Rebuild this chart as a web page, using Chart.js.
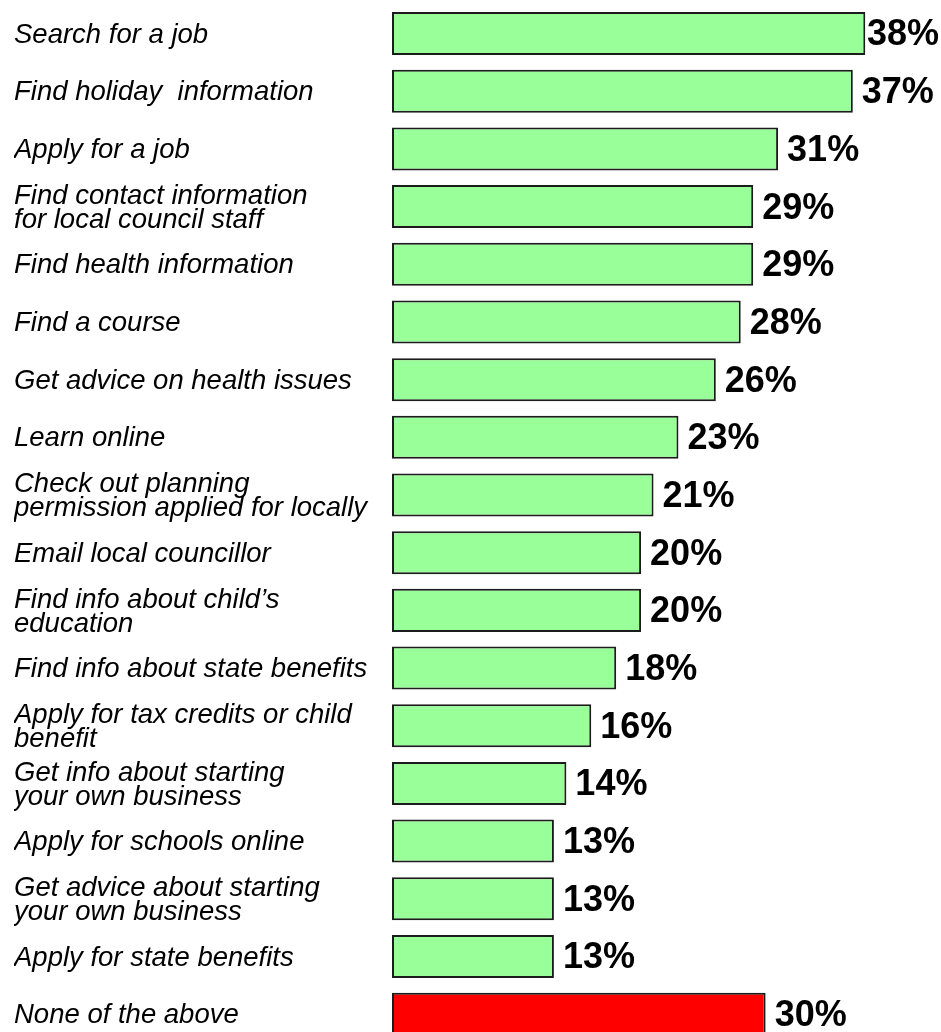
<!DOCTYPE html>
<html>
<head>
<meta charset="utf-8">
<title>Online activities</title>
<script src="https://cdn.jsdelivr.net/npm/chart.js@4/dist/chart.umd.min.js"></script>
<style>
  html, body { margin: 0; padding: 0; background: #fff; overflow: hidden; }
  #wrap { position: relative; width: 941px; height: 1043px; }
</style>
</head>
<body>
<div id="wrap"><canvas id="activityChart"></canvas></div>
<script>
// Activities and the share of people who have done each one online
const activities = [
    'Search for a job',
    'Find holiday  information',
    'Apply for a job',
    ['Find contact information', 'for local council staff'],
    'Find health information',
    'Find a course',
    'Get advice on health issues',
    'Learn online',
    ['Check out planning', 'permission applied for locally'],
    'Email local councillor',
    ['Find info about child\u2019s', 'education'],
    'Find info about state benefits',
    ['Apply for tax credits or child', 'benefit'],
    ['Get info about starting', 'your own business'],
    'Apply for schools online',
    ['Get advice about starting', 'your own business'],
    'Apply for state benefits',
    'None of the above'
];
const percentages = [38, 37, 31, 29, 29, 28, 26, 23, 21, 20, 20, 18, 16, 14, 13, 13, 13, 30];

const GREEN = '#99ff99';
const RED = '#ff0000';
const barColours = activities.map((a, i) => i === activities.length - 1 ? RED : GREEN);

// Percent labels to the right of each bar
const valueLabels = {
    id: 'valueLabels',
    afterDatasetsDraw(chart) {
        const ctx = chart.ctx;
        const meta = chart.getDatasetMeta(0);
        ctx.save();
        ctx.font = 'bold 36px "Liberation Sans", Arial, sans-serif';
        ctx.fillStyle = '#000';
        ctx.textBaseline = 'middle';
        ctx.textAlign = 'left';
        meta.data.forEach((bar, i) => {
            const text = percentages[i] + '%';
            const w = ctx.measureText(text).width;
            const x = Math.min(bar.x + 9, chart.width - w - 2);
            ctx.fillText(text, x, bar.y + 2);
        });
        ctx.restore();
    }
};

document.addEventListener('DOMContentLoaded', function() {
    const ctx = document.getElementById('activityChart');
    new Chart(ctx, {
        type: 'bar',
        data: {
            labels: activities,
            datasets: [{
                data: percentages,
                backgroundColor: barColours,
                borderColor: '#1c1c1c',
                borderWidth: 2,
                borderSkipped: false,
                categoryPercentage: 0.746,
                barPercentage: 1.0
            }]
        },
        options: {
            indexAxis: 'y',
            responsive: true,
            maintainAspectRatio: false,
            animation: false,
            layout: {
                padding: { left: 14, right: 1, top: 4.7, bottom: 0 }
            },
            plugins: {
                legend: { display: false },
                tooltip: { enabled: false }
            },
            scales: {
                x: {
                    min: 0,
                    max: 44,
                    display: false,
                    grid: { display: false }
                },
                y: {
                    grid: { display: false },
                    border: { display: false },
                    afterFit(scale) {
                        // fixed label column; rows run edge to edge
                        scale.width = 378;
                        scale.paddingTop = 0;
                        scale.paddingBottom = 0;
                    },
                    ticks: {
                        crossAlign: 'far',
                        color: '#000',
                        padding: 0,
                        labelOffset: 1.5,
                        autoSkip: false,
                        font: {
                            family: '"Liberation Sans", Arial, sans-serif',
                            size: 27.5,
                            style: 'italic',
                            lineHeight: 0.875
                        }
                    }
                }
            }
        },
        plugins: [valueLabels]
    });
});
</script>
</body>
</html>
